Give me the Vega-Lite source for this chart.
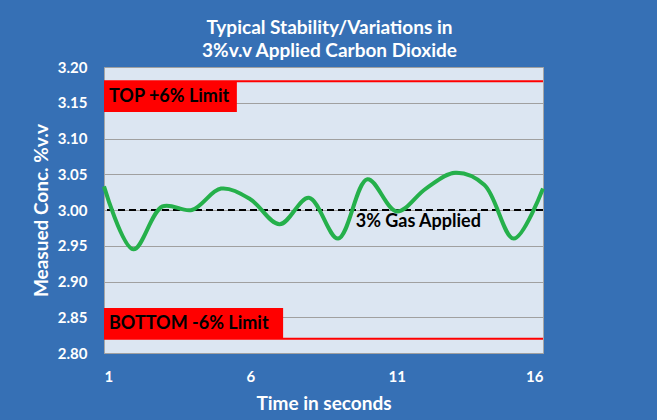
{
  "$schema": "https://vega.github.io/schema/vega-lite/v6.json",
  "width": 439,
  "height": 286,
  "autosize": {"type": "none"},
  "padding": {"left": 104, "top": 67, "right": 114, "bottom": 67},
  "background": "#3670b5",
  "title": {
    "text": ["Typical Stability/Variations in", "3%v.v Applied Carbon Dioxide"],
    "color": "white",
    "font": "Lato",
    "fontSize": 19,
    "fontWeight": "bold",
    "anchor": "middle",
    "frame": "group",
    "offset": -1,
    "lineHeight": 23,
    "dx": 6
  },
  "config": {
    "view": {"fill": "#dce6f2", "stroke": "#a6a6a6", "strokeWidth": 1},
    "font": "Lato",
    "axisY": {
      "titleColor": "white",
      "titleFontSize": 19,
      "titleFontWeight": "bold",
      "titleFont": "Lato",
      "titlePadding": 6,
      "labelColor": "white",
      "labelFontSize": 15,
      "labelFontWeight": "bold",
      "labelFont": "Lato",
      "labelPadding": 17,
      "labelOverlap": false,
      "ticks": false,
      "domain": false,
      "gridColor": "#a0a0a0",
      "gridWidth": 1
    },
    "axisX": {
      "titleColor": "white",
      "titleFontSize": 19,
      "titleFontWeight": "bold",
      "titleFont": "Lato",
      "titlePadding": 10,
      "labelColor": "white",
      "labelFontSize": 15,
      "labelFontWeight": "bold",
      "labelFont": "Lato",
      "labelPadding": 16,
      "ticks": false,
      "domain": false,
      "grid": false
    }
  },
  "layer": [
    {
      "data": {"values": [{"v": 3.18}, {"v": 2.82}]},
      "mark": {"type": "rule", "color": "#ff0000", "strokeWidth": 2},
      "encoding": {
        "y": {"field": "v", "type": "quantitative", "scale": {"domain": [2.8, 3.2], "nice": false, "zero": false},
          "axis": {"title": "Measued Conc. %v.v", "values": [2.8, 2.85, 2.9, 2.95, 3.0, 3.05, 3.1, 3.15, 3.2], "tickCount": 20, "format": ".2f"}}
      }
    },
    {
      "data": {"values": [
        {"label": "TOP +6% Limit", "start": 1, "end": 5.54, "lo": 3.137, "hi": 3.18, "mid": 3.158},
        {"label": "BOTTOM -6% Limit", "start": 1, "end": 7.12, "lo": 2.82, "hi": 2.863, "mid": 2.841}
      ]},
      "layer": [
        {
          "mark": {"type": "rect", "color": "#ff0000"},
          "encoding": {
            "x": {"field": "start", "type": "quantitative", "axis": {"title": "Time in seconds", "values": [1, 6, 11, 16]}},
            "x2": {"field": "end"},
            "y": {"field": "lo", "type": "quantitative", "axis": {"title": "Measued Conc. %v.v", "values": [2.8, 2.85, 2.9, 2.95, 3.0, 3.05, 3.1, 3.15, 3.2], "tickCount": 20, "format": ".2f"}},
            "y2": {"field": "hi"}
          }
        },
        {
          "mark": {"type": "text", "align": "left", "baseline": "middle", "dx": 5, "fontSize": 18, "fontWeight": "bold", "font": "Lato", "color": "black"},
          "encoding": {
            "x": {"field": "start", "type": "quantitative", "axis": {"title": "Time in seconds", "values": [1, 6, 11, 16]}},
            "y": {"field": "mid", "type": "quantitative", "axis": {"title": "Measued Conc. %v.v", "values": [2.8, 2.85, 2.9, 2.95, 3.0, 3.05, 3.1, 3.15, 3.2], "tickCount": 20, "format": ".2f"}},
            "text": {"field": "label"}
          }
        }
      ]
    },
    {
      "data": {"values": [{"v": 3.0}]},
      "mark": {"type": "rule", "color": "black", "strokeWidth": 2, "strokeDash": [7, 4]},
      "encoding": {"y": {"field": "v", "type": "quantitative", "axis": {"title": "Measued Conc. %v.v", "values": [2.8, 2.85, 2.9, 2.95, 3.0, 3.05, 3.1, 3.15, 3.2], "tickCount": 20, "format": ".2f"}}}
    },
    {
      "data": {"values": [
        {"t": 1, "v": 3.033}, {"t": 2, "v": 2.945}, {"t": 3, "v": 3.005}, {"t": 4, "v": 3.0},
        {"t": 5, "v": 3.03}, {"t": 6, "v": 3.015}, {"t": 7, "v": 2.98}, {"t": 8, "v": 3.017},
        {"t": 9, "v": 2.96}, {"t": 10, "v": 3.043}, {"t": 11, "v": 2.998}, {"t": 12, "v": 3.03},
        {"t": 13, "v": 3.052}, {"t": 14, "v": 3.035}, {"t": 15, "v": 2.96}, {"t": 16, "v": 3.03}
      ]},
      "mark": {"type": "line", "interpolate": "catmull-rom", "color": "#25b04b", "strokeWidth": 4},
      "encoding": {
        "x": {"field": "t", "type": "quantitative", "scale": {"domain": [1, 16], "nice": false, "zero": false},
          "axis": {"title": "Time in seconds", "values": [1, 6, 11, 16]}},
        "y": {"field": "v", "type": "quantitative",
          "axis": {"title": "Measued Conc. %v.v", "values": [2.8, 2.85, 2.9, 2.95, 3.0, 3.05, 3.1, 3.15, 3.2], "tickCount": 20, "format": ".2f"}}
      }
    },
    {
      "data": {"values": [{"t": 9.6, "v": 2.983, "label": "3% Gas Applied"}]},
      "mark": {"type": "text", "align": "left", "baseline": "middle", "fontSize": 18, "fontWeight": "bold", "font": "Lato", "color": "black"},
      "encoding": {
        "x": {"field": "t", "type": "quantitative", "axis": {"title": "Time in seconds", "values": [1, 6, 11, 16]}},
        "y": {"field": "v", "type": "quantitative", "axis": {"title": "Measued Conc. %v.v", "values": [2.8, 2.85, 2.9, 2.95, 3.0, 3.05, 3.1, 3.15, 3.2], "tickCount": 20, "format": ".2f"}},
        "text": {"field": "label"}
      }
    }
  ]
}
